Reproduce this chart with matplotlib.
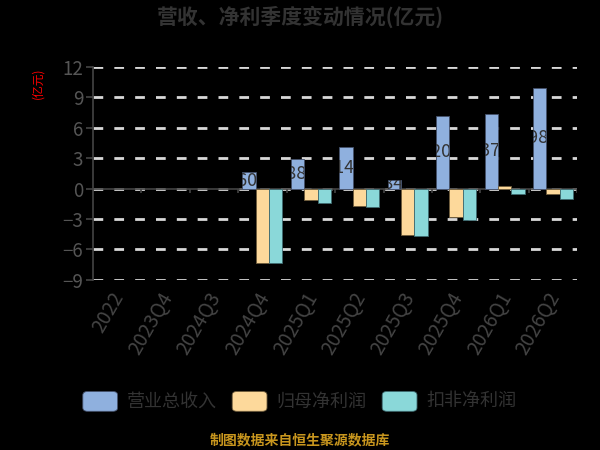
import matplotlib.pyplot as plt
import numpy as np
from matplotlib.patches import FancyBboxPatch
from matplotlib.transforms import Bbox, TransformedBbox

plt.rcParams['font.family'] = ['Noto Sans CJK SC', 'DejaVu Sans']

# data (亿元)
quarters = ['2022', '2023Q4', '2024Q3', '2024Q4', '2025Q1', '2025Q2',
            '2025Q3', '2025Q4', '2026Q1', '2026Q2']
revenue = [0, 0, 0, 1.60, 2.88, 4.14, 0.84, 7.20, 7.37, 9.98]
net_profit = [0, 0, 0, -7.35, -1.15, -1.68, -4.54, -2.83, 0.30, -0.49]
net_profit_ex = [0, 0, 0, -7.35, -1.45, -1.81, -4.70, -3.06, -0.56, -1.02]
series_names = ['营业总收入', '归母净利润', '扣非净利润']

colors = ['#8fb0de', '#fdd99b', '#8ad8d9']
edges = ['#44506a', '#6e5c3c', '#3f6a70']

fig = plt.figure(figsize=(6, 4.5), dpi=100, facecolor='black')
ax = fig.add_axes([0.155, 0.378, 0.807, 0.473])
ax.set_facecolor('black')

x = np.arange(len(quarters))
w = 0.275
all_series = [revenue, net_profit, net_profit_ex]
bar_sets = []
for i, vals in enumerate(all_series):
    lws = [0.6 if v != 0 else 0 for v in vals]
    bars = ax.bar(x + (i - 1) * w, vals, width=w, color=colors[i],
                  edgecolor=edges[i], linewidth=lws, zorder=3)
    bar_sets.append(bars)

ax.set_xlim(-0.5, len(quarters) - 0.5)
ax.set_ylim(-9, 12)

# revenue labels inside bars, clipped to the bar
for b, v in zip(bar_sets[0], revenue):
    if v == 0:
        continue
    x0 = b.get_x()
    x1 = x0 + b.get_width()
    t = ax.text((x0 + x1) / 2, v / 2, f'{v:.2f}亿',
                ha='center', va='center', fontsize=13, color='#333333',
                zorder=4)
    t.set_clip_on(True)
    t.set_clip_box(TransformedBbox(Bbox([[x0, 0], [x1, v]]), ax.transData))

ax.set_yticks(np.arange(-9, 13, 3))
ax.grid(axis='y', color='#d8d8d8', linestyle=(0, (3.5, 4)), linewidth=2, zorder=0)
ax.set_axisbelow(True)

for s in ['top', 'right', 'bottom']:
    ax.spines[s].set_visible(False)
ax.spines['left'].set_color('#444444')
ax.spines['left'].set_linewidth(1.2)

# zero axis line with ticks at category boundaries
ax.axhline(0, color='#444444', linewidth=1.2, zorder=2)
ax.vlines(np.arange(0.5, len(quarters)), -0.45, 0, color='#444444',
          linewidth=1.2, zorder=2)

ax.set_xticks(x - 0.15)
ax.set_xticklabels(quarters, rotation=60, ha='right', va='top',
                   rotation_mode='anchor')
ax.tick_params(axis='x', length=0, pad=6, labelsize=14, labelcolor='#444444')
ax.tick_params(axis='y', length=5, width=1.2, color='#444444', pad=2,
               labelsize=13.5, labelcolor='#555555')

fig.text(0.5, 0.962, '营收、净利季度变动情况(亿元)', ha='center', va='center',
         fontsize=15, fontweight='bold', color='#333333')
fig.text(0.063, 0.815, '(亿元)', ha='center', va='center', rotation=90,
         fontsize=8.5, color='red')

# legend
leg_y = 0.108
leg_items_x = [0.138, 0.387, 0.637]
for lx, c, e, name in zip(leg_items_x, colors, edges, series_names):
    p = FancyBboxPatch((lx, leg_y - 0.022), 0.058, 0.044,
                       boxstyle='round,pad=0,rounding_size=0.008',
                       transform=fig.transFigure, facecolor=c,
                       edgecolor=e, linewidth=0.6)
    fig.add_artist(p)
    fig.text(lx + 0.073, leg_y, name, ha='left', va='center',
             fontsize=13, color='#333333')

fig.text(0.5, 0.022, '制图数据来自恒生聚源数据库', ha='center', va='center',
         fontsize=10, fontweight='bold', color='#c8961e')

fig.savefig('out.png', dpi=100, facecolor='black')
